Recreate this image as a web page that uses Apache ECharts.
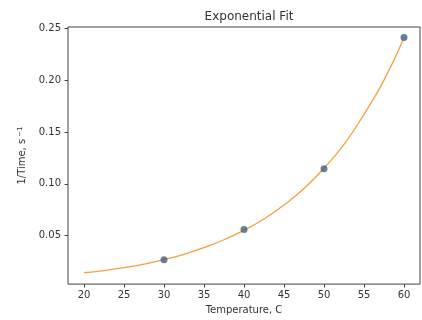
<!DOCTYPE html>
<html>
<head>
<meta charset="utf-8">
<script src="https://cdn.jsdelivr.net/npm/echarts@6/dist/echarts.min.js"></script>
<style>
  html, body { margin: 0; padding: 0; background: #fff; }
  #chart { width: 422px; height: 320px; }
</style>
</head>
<body>
<div id="chart"></div>
<script>
// 测量点（温度, 1/时间）
const TEMPS = [30, 40, 50, 60];
const RATES = [0.0268, 0.056, 0.1146, 0.2411];

// 拟合曲线
const FIT_X = [20, 22.5, 25, 27.5, 30, 32.5, 35, 37.5, 40, 42.5, 45, 47.5, 50, 52.5, 55, 57.5, 60];
const FIT_Y = [0.0142, 0.0163, 0.019, 0.0225, 0.0268, 0.032, 0.0385, 0.046, 0.0552, 0.066, 0.0795, 0.0955, 0.115, 0.138, 0.167, 0.2, 0.241];

// 刻度
const X_TICKS = [20, 25, 30, 35, 40, 45, 50, 55, 60];
const Y_TICKS = [0.05, 0.10, 0.15, 0.20, 0.25];

const FONT = "DejaVu Sans";
const TEXT = "#333";
const AXIS = "#444";

const chart = echarts.init(document.getElementById("chart"));
chart.setOption({
  animation: false,
  textStyle: { fontFamily: FONT },
  title: {
    text: "Exponential Fit",
    left: 244,
    top: 6,
    textAlign: "center",
    textStyle: { fontFamily: FONT, fontSize: 12, fontWeight: "normal", color: TEXT },
  },
  grid: {
    left: 68, top: 27, right: 2, bottom: 32,
    show: true, borderColor: AXIS, borderWidth: 1, backgroundColor: "#fff",
  },
  xAxis: {
    type: "value",
    min: 18, max: 62,
    name: "Temperature, C",
    nameLocation: "middle",
    nameGap: 20,
    nameTextStyle: { fontFamily: FONT, fontSize: 10, color: TEXT },
    axisLine: { show: false },
    splitLine: { show: false },
    axisTick: { show: true, length: 3.5, lineStyle: { color: AXIS }, customValues: X_TICKS },
    axisLabel: { fontSize: 10, color: TEXT, margin: 6, customValues: X_TICKS },
  },
  yAxis: {
    type: "value",
    min: 0.0032, max: 0.2513,
    name: "{a|1/Time, s}{b|−1}",
    nameLocation: "middle",
    nameGap: 35,
    nameTextStyle: {
      fontFamily: FONT, fontSize: 10, color: TEXT,
      rich: {
        a: { fontFamily: FONT, fontSize: 10, color: TEXT },
        b: { fontFamily: FONT, fontSize: 7, color: TEXT, verticalAlign: "top", padding: [0, 0, 6, 2] },
      },
    },
    axisLine: { show: false },
    splitLine: { show: false },
    axisTick: { show: true, length: 3.5, lineStyle: { color: AXIS }, customValues: Y_TICKS },
    axisLabel: {
      fontSize: 10, color: TEXT, margin: 7, customValues: Y_TICKS,
      formatter: (v) => v.toFixed(2),
    },
  },
  series: [
    {
      type: "line",
      data: FIT_X.map((x, i) => [x, FIT_Y[i]]),
      smooth: true,
      showSymbol: false,
      lineStyle: { color: "#f5a040", width: 1.3 },
      z: 2,
    },
    {
      type: "scatter",
      data: TEMPS.map((x, i) => [x, RATES[i]]),
      symbolSize: 7,
      itemStyle: { color: "#44607f" },
      z: 3,
    },
  ],
});
</script>
</body>
</html>
